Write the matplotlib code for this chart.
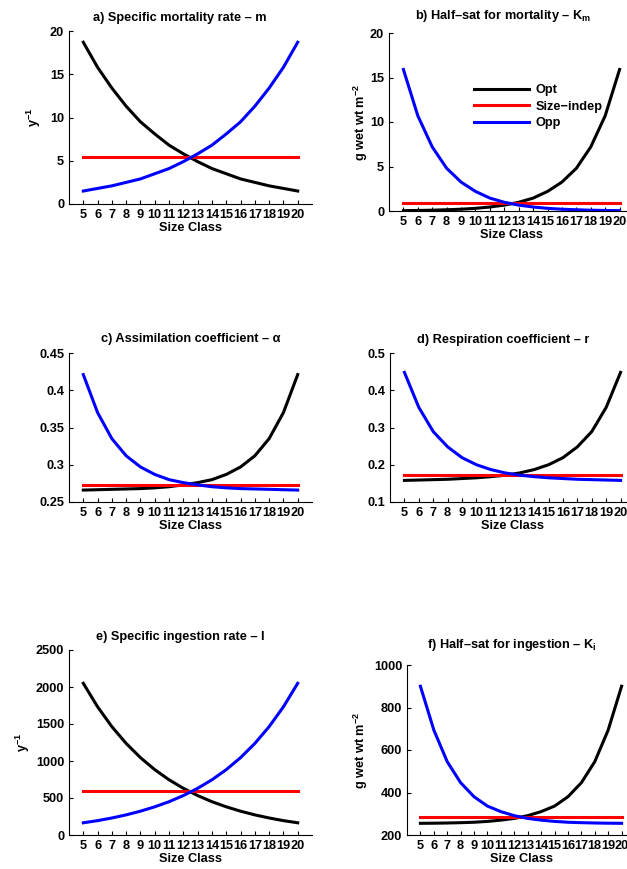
import matplotlib
matplotlib.use("Agg")
import matplotlib.pyplot as plt
from matplotlib.ticker import FormatStrFormatter

plt.rcParams['font.family'] = ['Liberation Sans', 'DejaVu Sans']
plt.rcParams['font.weight'] = 'bold'
plt.rcParams['mathtext.fontset'] = 'custom'
plt.rcParams['mathtext.rm'] = 'Liberation Sans:bold'
plt.rcParams['mathtext.it'] = 'Liberation Sans:bold'
plt.rcParams['mathtext.bf'] = 'Liberation Sans:bold'

size_class = list(range(5, 21))

# a) specific mortality rate
mort_opt = [18.7, 15.8, 13.4, 11.3, 9.5, 8.1, 6.8, 5.8, 4.9, 4.1, 3.5, 2.9, 2.5, 2.1, 1.8, 1.5]
mort_indep = [5.4] * 16
mort_opp = mort_opt[::-1]

# b) half-sat for mortality
km_opp = [15.9, 10.7, 7.2, 4.8, 3.25, 2.2, 1.45, 0.98, 0.66, 0.45, 0.30, 0.20, 0.14, 0.09, 0.06, 0.04]
km_indep = [0.85] * 16
km_opt = km_opp[::-1]

# c) assimilation coefficient
alpha_opp = [0.421, 0.370, 0.335, 0.312, 0.297, 0.287, 0.280, 0.276, 0.273, 0.2705, 0.269, 0.268, 0.2675, 0.267, 0.2665, 0.266]
alpha_indep = [0.273] * 16
alpha_opt = alpha_opp[::-1]

# d) respiration coefficient
resp_opp = [0.448, 0.354, 0.289, 0.248, 0.219, 0.200, 0.187, 0.178, 0.172, 0.168, 0.165, 0.163, 0.161, 0.160, 0.159, 0.158]
resp_indep = [0.173] * 16
resp_opt = resp_opp[::-1]

# e) specific ingestion rate
ing_opt = [2050, 1732, 1464, 1237, 1045, 883, 746, 631, 533, 450, 381, 322, 272, 230, 194, 165]
ing_indep = [590] * 16
ing_opp = ing_opt[::-1]

# f) half-sat for ingestion
ki_opp = [900, 694, 545, 446, 380, 336, 310, 291, 278, 270, 264, 260, 258, 256.5, 255.5, 255]
ki_indep = [285] * 16
ki_opt = ki_opp[::-1]

W, H = 627, 869
fig = plt.figure(figsize=(W / 100, H / 100), dpi=100)


def px_axes(left, top, width, height):
    return fig.add_axes([left / W, 1 - (top + height) / H, width / W, height / H])


unit_y = 'y$^{-1}$'
unit_g = 'g wet wt m$^{-2}$'
FS = 9.2

panels = [
    # rect, title, title x, pad, series, ylim, yticks, ylabel, ylabel x
    ((69, 31, 243, 173), 'a) Specific mortality rate \u2013 m', 0.457, 7,
     (mort_opt, mort_indep, mort_opp), (0, 20), [0, 5, 10, 15, 20], unit_y, -0.107),
    ((389, 33, 245, 178), 'b) Half\u2013sat for mortality \u2013 K$_m$', 0.465, 10,
     (km_opt, km_indep, km_opp), (0, 20), [0, 5, 10, 15, 20], unit_g, -0.078),
    ((69, 353, 243, 149), 'c) Assimilation coefficient \u2013 \u03b1', 0.5, 8,
     (alpha_opt, alpha_indep, alpha_opp), (0.25, 0.45), [0.25, 0.3, 0.35, 0.4, 0.45], None, 0),
    ((390, 353, 245, 149), 'd) Respiration coefficient \u2013 r', 0.46, 7.5,
     (resp_opt, resp_indep, resp_opp), (0.1, 0.5), [0.1, 0.2, 0.3, 0.4, 0.5], None, 0),
    ((69, 650, 243, 185), 'e) Specific ingestion rate \u2013 I', 0.457, 7.5,
     (ing_opt, ing_indep, ing_opp), (0, 2500), [0, 500, 1000, 1500, 2000, 2500], unit_y, -0.152),
    ((407, 665, 228, 170), 'f) Half\u2013sat for ingestion \u2013 K$_i$', 0.46, 12,
     (ki_opt, ki_indep, ki_opp), (200, 1000), [200, 400, 600, 800, 1000], unit_g, -0.162),
]

names = ['Opt', 'Size\u2212indep', 'Opp']
colors = ['black', '#ff0000', '#0000ff']

for i, (rect, title, tx, pad, series, ylim, yticks, ylabel, lx) in enumerate(panels):
    ax = px_axes(*rect)
    for vals, c, n in zip(series, colors, names):
        ax.plot(size_class, vals, color=c, lw=2.2, label=n)
    ax.set_xlim(4, 21)
    ax.set_ylim(*ylim)
    ax.set_xticks(size_class)
    ax.set_yticks(yticks)
    ax.yaxis.set_major_formatter(FormatStrFormatter('%g'))
    ax.spines['top'].set_visible(False)
    ax.spines['right'].set_visible(False)
    for s in ('left', 'bottom'):
        ax.spines[s].set_linewidth(0.8)
    ax.tick_params(direction='in', length=3, width=0.8, labelsize=FS, pad=3.5)
    t = ax.set_title(title, fontsize=FS, fontweight='bold', pad=pad)
    t.set_x(tx)
    ax.set_xlabel('Size Class', fontsize=FS, fontweight='bold', labelpad=1)
    if ylabel:
        ax.set_ylabel(ylabel, fontsize=FS, fontweight='bold')
        ax.yaxis.set_label_coords(lx, 0.5)
    if i == 1:
        ax.legend(loc='upper left', bbox_to_anchor=(0.347, 0.713), frameon=False,
                  fontsize=FS, handlelength=4.3, handletextpad=0.5,
                  labelspacing=0.35, borderpad=0, borderaxespad=0)

fig.savefig('out.png', dpi=100, facecolor='white')
